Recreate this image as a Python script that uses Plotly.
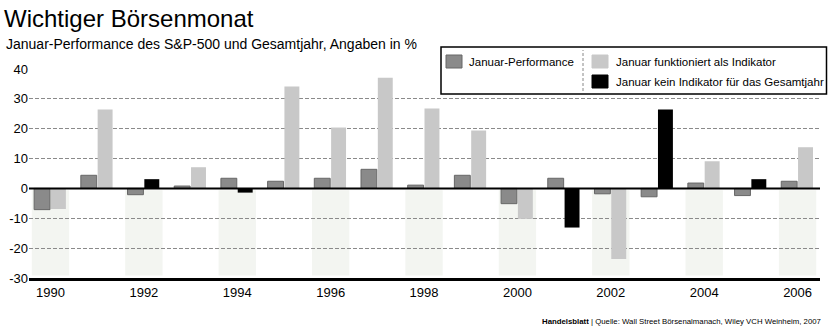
import plotly.graph_objects as go

# ---- data ----
years = list(range(1990, 2007))
jan_perf = [-7.1, 4.4, -2.1, 0.8, 3.4, 2.4, 3.4, 6.4, 1.1, 4.4, -5.1, 3.4, -1.8, -2.8, 1.8, -2.4, 2.4]
full_year = [-6.9, 26.4, 3.1, 7.1, -1.4, 34.1, 20.4, 37.1, 26.8, 19.4, -10.2, -13.1, -23.6, 26.4, 9.1, 3.1, 13.8]
indicator_works = [True, True, False, True, False, True, True, True, True, True, True, False, True, False, True, False, True]
xtick_years = list(range(1990, 2007, 2))
xtick_text = [str(y) for y in xtick_years]
ytick_vals = [-30, -20, -10, 0, 10, 20, 30, 40]
ytick_text = ["-30", "-20", "-10", "0", "10", "20", "30", "40"]

title = "Wichtiger Börsenmonat"
subtitle = "Januar-Performance des S&P-500 und Gesamtjahr, Angaben in %"
legend_labels = ["Januar-Performance", "Januar funktioniert als Indikator",
                 "Januar kein Indikator für das Gesamtjahr"]
footer = "<b>Handelsblatt</b> | Quelle: Wall Street Börsenalmanach, Wiley VCH Weinheim, 2007"

# ---- styles ----
C_JAN = "#8a8a8a"
C_OK = "#c8c8c8"
C_NO = "#000000"
C_SHADE = "#f3f5f1"
FONT = "Liberation Sans, Arial, sans-serif"

W, H = 828, 329
ML, MR, MT, MB = 29, 8, 69, 51
PW, PH = W - ML - MR, H - MT - MB


def px(x):
    return (x - ML) / PW


def py(y):
    return (H - MB - y) / PH


fig = go.Figure()

fig.add_trace(go.Bar(
    x=years, y=jan_perf, name=legend_labels[0],
    marker=dict(color=C_JAN, line=dict(color="#666666", width=1)),
    offset=-0.35, width=0.34, showlegend=False, hoverinfo="x+y"))

ok_y = [v if w else None for v, w in zip(full_year, indicator_works)]
no_y = [v if not w else None for v, w in zip(full_year, indicator_works)]
fig.add_trace(go.Bar(
    x=years, y=ok_y, name=legend_labels[1],
    marker=dict(color=C_OK, line=dict(width=0)),
    offset=0.01, width=0.32, showlegend=False, hoverinfo="x+y"))
fig.add_trace(go.Bar(
    x=years, y=no_y, name=legend_labels[2],
    marker=dict(color=C_NO, line=dict(width=0)),
    offset=0.01, width=0.32, showlegend=False, hoverinfo="x+y"))

shapes = []
# shaded background columns for even years (negative area)
for y in xtick_years:
    shapes.append(dict(type="rect", xref="x", yref="y", x0=y - 0.4, x1=y + 0.4,
                       y0=-0.6, y1=-29.2, fillcolor=C_SHADE, line=dict(width=0),
                       layer="below"))
# zero line
shapes.append(dict(type="line", xref="paper", yref="y", x0=0, x1=1, y0=0, y1=0,
                   line=dict(color="black", width=2), layer="above"))

# legend box
shapes.append(dict(type="rect", xref="paper", yref="paper",
                   x0=px(441), x1=px(826.5), y0=py(94), y1=py(47),
                   fillcolor="white", line=dict(color="black", width=1.5), layer="above"))
shapes.append(dict(type="line", xref="paper", yref="paper",
                   x0=px(583), x1=px(583), y0=py(91), y1=py(50),
                   line=dict(color="#888888", width=1, dash="3px,2px"), layer="above"))
sw = [(446, 55, C_JAN), (592, 55, C_OK), (592, 75, C_NO)]
for (sx, sy, c) in sw:
    shapes.append(dict(type="rect", xref="paper", yref="paper",
                       x0=px(sx), x1=px(sx + 16), y0=py(sy + 13), y1=py(sy),
                       fillcolor=c,
                       line=dict(color="#666666" if c == C_JAN else c, width=1),
                       layer="above"))

LEG_SIZE = 11.5
annotations = [
    dict(text=subtitle, xref="paper", yref="paper", x=px(4), y=py(44),
         xanchor="left", yanchor="middle", showarrow=False,
         font=dict(family=FONT, size=14, color="black")),
    dict(text=footer, xref="paper", yref="paper", x=px(823), y=py(321),
         xanchor="right", yanchor="middle", showarrow=False,
         font=dict(family=FONT, size=7.8, color="black")),
    dict(text=legend_labels[0], xref="paper", yref="paper", x=px(467), y=py(61.5),
         xanchor="left", yanchor="middle", showarrow=False,
         font=dict(family=FONT, size=LEG_SIZE, color="black")),
    dict(text=legend_labels[1], xref="paper", yref="paper", x=px(614), y=py(61.5),
         xanchor="left", yanchor="middle", showarrow=False,
         font=dict(family=FONT, size=LEG_SIZE, color="black")),
    dict(text=legend_labels[2], xref="paper", yref="paper", x=px(614), y=py(81.5),
         xanchor="left", yanchor="middle", showarrow=False,
         font=dict(family=FONT, size=LEG_SIZE, color="black")),
]

fig.update_layout(
    width=W, height=H,
    margin=dict(l=ML, r=MR, t=MT, b=MB, pad=0),
    paper_bgcolor="white", plot_bgcolor="white",
    barmode="overlay",
    title=dict(text=title, x=4 / W, xanchor="left", xref="container",
               y=1 - 18.5 / H, yanchor="middle", yref="container",
               font=dict(family=FONT, size=24, color="black")),
    xaxis=dict(range=[1989.54, 2006.48], tickvals=xtick_years, ticktext=xtick_text,
               showgrid=False, zeroline=False, showline=True, linecolor="black",
               linewidth=3, ticks="", tickfont=dict(family=FONT, size=13, color="black"),
               fixedrange=True),
    yaxis=dict(range=[-30, 40], tickvals=ytick_vals, ticktext=ytick_text,
               showgrid=True, gridcolor="#8a8a8a", gridwidth=1, griddash="4px,2px",
               zeroline=False, showline=False, ticks="",
               tickfont=dict(family=FONT, size=13, color="black"), fixedrange=True),
    shapes=shapes,
    annotations=annotations,
    showlegend=False,
)

fig.write_html("out.html")
